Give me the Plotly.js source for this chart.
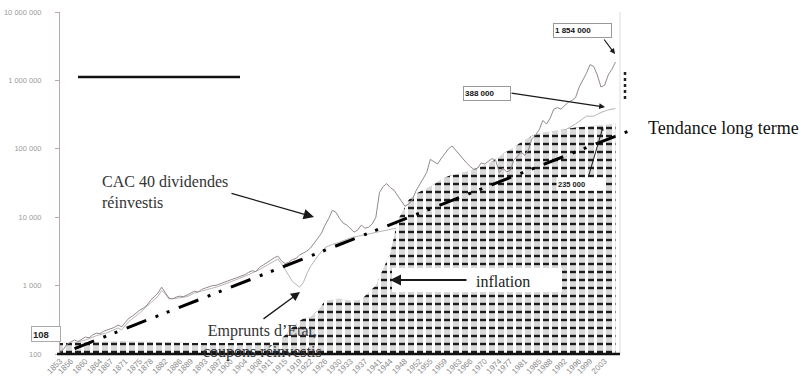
<!DOCTYPE html>
<html>
<head>
<meta charset="utf-8">
<script src="https://cdn.plot.ly/plotly-3.0.1.min.js"></script>
<style>html,body{margin:0;padding:0;background:#fff;}#chart{width:810px;height:388px;}</style>
</head>
<body>
<div id="chart"></div>
<script>
// ---- data ----
const cacYears = [1853,1854,1855,1856,1857,1858,1859,1860,1861,1862,1863,1864,1865,1866,1867,1868,1869,1870,1871,1872,1873,1874,1875,1876,1877,1878,1879,1880,1881,1882,1883,1884,1885,1886,1887,1888,1889,1890,1891,1892,1893,1894,1895,1896,1897,1898,1899,1900,1901,1902,1903,1904,1905,1906,1907,1908,1909,1910,1911,1912,1913,1914,1915,1916,1917,1918,1919,1920,1921,1922,1923,1924,1925,1926,1927,1928,1929,1930,1931,1932,1933,1934,1935,1936,1937,1938,1939,1940,1941,1942,1943,1944,1945,1946,1947,1948,1949,1950,1951,1952,1953,1954,1955,1956,1957,1958,1959,1960,1961,1962,1963,1964,1965,1966,1967,1968,1969,1970,1971,1972,1973,1974,1975,1976,1977,1978,1979,1980,1981,1982,1983,1984,1985,1986,1987,1988,1989,1990,1991,1992,1993,1994,1995,1996,1997,1998,1999,2000,2001,2002,2003,2004,2005,2006];
const cacValues = [105,118,140,150,160,152,165,177,172,190,202,198,215,224,232,245,265,250,290,335,360,400,440,470,520,614,700,780,950,800,657,640,680,700,690,725,780,830,800,880,920,960,1000,1010,1060,1110,1160,1200,1250,1330,1380,1450,1570,1650,1600,1860,2000,2200,2350,2550,2700,2300,2100,2200,2400,2500,2800,2990,3200,3540,4200,4900,5800,7660,9500,12600,11800,9600,8200,7660,6800,6060,6500,7660,6900,7130,8000,10000,23000,28000,31000,27000,24800,21000,17800,14500,15500,17800,24000,30000,36000,45000,70000,65000,60000,72000,85000,100000,110000,95000,80000,70000,62000,55000,50000,52000,62000,60000,65000,72000,68000,45000,52000,46000,48000,68000,78000,90000,80000,95000,140000,160000,190000,260000,230000,280000,380000,400000,380000,430000,480000,510000,560000,800000,1000000,1270000,1700000,1600000,1200000,800000,850000,1200000,1450000,1854000];

const bondYears = [1853,1855,1857,1860,1863,1866,1869,1870,1872,1875,1878,1880,1881,1882,1883,1885,1888,1890,1893,1896,1899,1902,1905,1908,1911,1913,1914,1915,1917,1919,1920,1921,1922,1924,1926,1928,1930,1933,1936,1938,1941,1944,1946,1948,1950,1955,1960,1965,1970,1975,1980,1985,1988,1990,1993,1995,1998,2000,2002,2004,2006];
const bondValues = [100,128,145,160,185,205,240,225,300,400,560,700,850,760,640,650,690,780,860,950,1080,1240,1450,1720,2150,2450,2100,1700,1150,950,1100,1500,1900,2700,3600,4000,4300,5000,5400,5800,6300,6700,7000,7200,8500,12000,16000,20000,25000,33000,45000,85000,120000,140000,200000,230000,300000,300000,340000,370000,388000];

const inflYears = [1853,1860,1870,1880,1890,1900,1913,1915,1918,1920,1922,1924,1926,1928,1930,1933,1936,1938,1940,1941,1942,1943,1944,1945,1946,1948,1949,1951,1953,1956,1958,1960,1963,1966,1970,1973,1975,1978,1980,1983,1985,1988,1990,1993,1995,1998,2000,2003,2006];
const inflValues = [145,150,155,150,145,145,150,190,280,330,350,430,600,620,650,600,620,800,1000,1330,1800,2300,3000,5000,9000,14000,17800,22000,25000,30000,36000,40000,44000,48000,58000,70000,85000,105000,125000,155000,170000,180000,190000,200000,205000,212000,215000,225000,235000];

const trendYears = [1857, 2010];
const trendValues = [120, 185000];

const xTickYears = [1853,1856,1860,1864,1867,1871,1875,1878,1882,1886,1889,1893,1897,1900,1904,1908,1911,1915,1919,1922,1926,1930,1933,1937,1941,1944,1948,1952,1955,1959,1963,1966,1970,1974,1977,1981,1985,1988,1992,1996,1999,2003];
const yTickValues = [100,1000,10000,100000,1000000,10000000];
const yTickText = ['100','1 000','10 000','100 000','1 000 000','10 000 000'];
const gridValues = [1000,10000,100000,1000000,10000000];

// ---- pixel helpers for decorations (plot area x:60..630, y:12..354) ----
const PX0 = 60, PX1 = 630, PY0 = 12, PY1 = 354;
const px = x => (x - PX0) / (PX1 - PX0);
const py = y => (PY1 - y) / (PY1 - PY0);

const floorVal = yTickValues[0];
const baseYears = [inflYears[0], inflYears[inflYears.length - 1]];
const baseVals = [floorVal, floorVal];

const traces = [
  {x: bondYears, y: bondValues, type: 'scatter', mode: 'lines',
   line: {color: '#bab3b3', width: 1}, hoverinfo: 'skip'},
  {x: baseYears, y: baseVals, type: 'scatter', mode: 'lines',
   line: {width: 0, color: 'rgba(0,0,0,0)'}, hoverinfo: 'skip'},
  {x: inflYears, y: inflValues, type: 'scatter', mode: 'lines', fill: 'tonexty',
   fillcolor: 'rgba(0,0,0,0)',
   fillpattern: {shape: '-', size: 8, solidity: 0.3, fgcolor: '#1c1c1c', bgcolor: '#d9d9d9'},
   line: {width: 0, color: 'rgba(0,0,0,0)'}, hoverinfo: 'skip'},
  {x: baseYears, y: baseVals, type: 'scatter', mode: 'lines',
   line: {width: 0, color: 'rgba(0,0,0,0)'}, hoverinfo: 'skip'},
  {x: inflYears, y: inflValues, type: 'scatter', mode: 'lines', fill: 'tonexty',
   fillcolor: 'rgba(0,0,0,0)',
   fillpattern: {shape: '|', size: 9, solidity: 0.33, fgcolor: '#ffffff'},
   line: {width: 0, color: 'rgba(0,0,0,0)'}, hoverinfo: 'skip'},
  {x: cacYears, y: cacValues, type: 'scatter', mode: 'lines',
   line: {color: '#958989', width: 1}, hoverinfo: 'skip'},
  {x: trendYears, y: trendValues, type: 'scatter', mode: 'lines',
   line: {color: '#000', width: 3, dash: '21px,10px,3px,9px,3px,10px'}, hoverinfo: 'skip'}
];

const shapes = [];
gridValues.forEach(v => {
  shapes.push({type: 'line', xref: 'x', yref: 'y', x0: 1853, x1: 2007.3,
    y0: Math.log10(v), y1: Math.log10(v), line: {color: '#d9c9c6', width: 1}, layer: 'below'});
});
shapes.push({type: 'line', xref: 'paper', yref: 'paper', x0: px(620), x1: px(620), y0: py(12), y1: py(354),
  line: {color: '#dcdcdc', width: 1}, layer: 'below'});
shapes.push({type: 'line', xref: 'paper', yref: 'paper', x0: px(57), x1: px(620), y0: py(354), y1: py(354),
  line: {color: '#111', width: 2.5}, layer: 'above'});
shapes.push({type: 'line', xref: 'paper', yref: 'paper', x0: px(78), x1: px(240), y0: py(77), y1: py(77),
  line: {color: '#111', width: 2.5}, layer: 'above'});
shapes.push({type: 'line', xref: 'paper', yref: 'paper', x0: px(625), x1: px(625), y0: py(72), y1: py(99),
  line: {color: '#222', width: 2.5, dash: 'dot'}, layer: 'above'});
shapes.push({type: 'rect', xref: 'paper', yref: 'paper', x0: px(392), x1: px(562), y0: py(292), y1: py(268),
  fillcolor: '#fff', line: {width: 0}, layer: 'above'});

const serif = 'Liberation Serif, Times New Roman, serif';
const sans = 'Liberation Sans, Arial, sans-serif';
const arrow = (hx, hy, tx, ty, w, size, head) => ({
  xref: 'paper', yref: 'paper', x: px(hx), y: py(hy), ax: tx - hx, ay: ty - hy,
  text: '', showarrow: true, arrowhead: head, arrowsize: size, arrowwidth: w, arrowcolor: '#1a1a1a'
});

const annotations = [
  {xref: 'paper', yref: 'paper', x: px(100), y: py(192), xanchor: 'left', yanchor: 'middle', align: 'left',
   text: 'CAC 40 dividendes<br>réinvestis', showarrow: false, font: {family: serif, size: 16, color: '#333'}},
  arrow(314, 217, 230, 193, 1.3, 1.6, 2),
  {xref: 'paper', yref: 'paper', x: px(262), y: py(341), xanchor: 'center', yanchor: 'middle', align: 'center',
   text: 'Emprunts d’Etat,<br>coupons réinvestis', showarrow: false, font: {family: serif, size: 16, color: '#333'}},
  arrow(300, 292, 262, 320, 1.3, 1.4, 2),
  arrow(390, 280, 468, 280, 2, 1.1, 2),
  {xref: 'paper', yref: 'paper', x: px(474), y: py(281), xanchor: 'left', yanchor: 'middle',
   text: 'inflation', showarrow: false, font: {family: serif, size: 16, color: '#222'}},
  {xref: 'paper', yref: 'paper', x: px(646), y: py(128), xanchor: 'left', yanchor: 'middle',
   text: 'Tendance long terme', showarrow: false, font: {family: serif, size: 18, color: '#111'}},
  {xref: 'paper', yref: 'paper', x: px(553), y: py(23), xanchor: 'left', yanchor: 'top', align: 'left',
   width: 55, height: 11, text: '<b>1 854 000</b>', showarrow: false, bgcolor: '#fff',
   bordercolor: '#999', borderwidth: 1, borderpad: 1, font: {family: sans, size: 8, color: '#111'}},
  arrow(615, 54, 603, 38, 1.2, 0.9, 2),
  {xref: 'paper', yref: 'paper', x: px(463), y: py(86), xanchor: 'left', yanchor: 'top', align: 'left',
   width: 44, height: 11, text: '<b>388 000</b>', showarrow: false, bgcolor: '#fff',
   bordercolor: '#999', borderwidth: 1, borderpad: 1, font: {family: sans, size: 8, color: '#111'}},
  arrow(605, 107, 510, 93, 1.3, 0.9, 2),
  arrow(603, 127, 588, 178, 1, 0.7, 2),
  {xref: 'paper', yref: 'paper', x: px(556), y: py(177), xanchor: 'left', yanchor: 'top', align: 'left',
   width: 46, height: 10, text: '<b>235 000</b>', showarrow: false, bgcolor: '#fff',
   borderpad: 1, font: {family: sans, size: 7.5, color: '#222'}},
  {xref: 'paper', yref: 'paper', x: px(31), y: py(326), xanchor: 'left', yanchor: 'top', align: 'left',
   width: 26, height: 12, text: '<b>108</b>', showarrow: false, bgcolor: '#fff',
   bordercolor: '#aaa', borderwidth: 1, borderpad: 1, font: {family: sans, size: 9.5, color: '#222'}}
];

const layout = {
  width: 810, height: 388,
  margin: {l: PX0, r: 810 - PX1, t: PY0, b: 388 - PY1},
  paper_bgcolor: '#fff', plot_bgcolor: '#fff',
  showlegend: false,
  xaxis: {range: [1853, 2010], showgrid: false, zeroline: false, showline: false,
    tickmode: 'array', tickvals: xTickYears, ticktext: xTickYears.map(String),
    tickangle: -45, ticks: '', tickfont: {family: sans, size: 8, color: '#8c8c8c'}},
  yaxis: {type: 'log', range: [2, 7], showgrid: false, zeroline: false,
    showline: true, linecolor: '#b8aaaa', linewidth: 1,
    tickmode: 'array', tickvals: yTickValues, ticktext: yTickText,
    ticks: 'outside', ticklen: 4, tickcolor: '#b8aaaa', ticklabelstandoff: 12,
    tickfont: {family: sans, size: 7.5, color: '#9a9a9a'}},
  shapes: shapes,
  annotations: annotations
};

Plotly.newPlot('chart', traces, layout, {staticPlot: true, displayModeBar: false});
</script>
</body>
</html>
